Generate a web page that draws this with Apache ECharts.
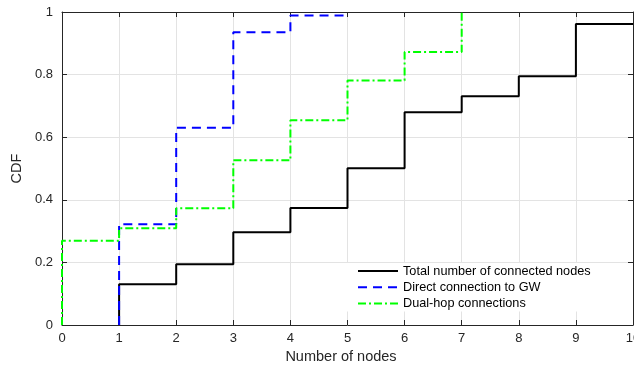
<!DOCTYPE html>
<html>
<head>
<meta charset="utf-8">
<script src="https://cdn.jsdelivr.net/npm/echarts@6/dist/echarts.min.js"></script>
<style>
  html, body { margin: 0; padding: 0; background: #fff; }
  #chart { width: 634px; height: 371px; }
</style>
</head>
<body>
<div id="chart"></div>
<script>
// Empirical CDF of node counts, drawn as stairs (x = number of nodes, y = CDF)
const seriesNames = ['Total number of connected nodes', 'Direct connection to GW', 'Dual-hop connections'];

const totalX = [1, 1, 2, 3, 4, 5, 6, 7, 8, 9, 10];
const totalY = [0, 0.130, 0.194, 0.296, 0.374, 0.501, 0.680, 0.731, 0.795, 0.962, 0.962];

const directX = [1, 1, 2, 3, 4, 5];
const directY = [0, 0.322, 0.630, 0.935, 0.989, 0.989];

const dualHopX = [0, 0, 1, 2, 3, 4, 5, 6, 7];
const dualHopY = [0, 0.269, 0.309, 0.373, 0.526, 0.654, 0.781, 0.872, 1.0];

const xTicks = { min: 0, max: 10, interval: 1 };
const yTicks = { min: 0, max: 1, interval: 0.2 };

const pairs = (xs, ys) => xs.map((x, i) => [x, ys[i]]);

const axisColor = '#262626';
const gridColor = '#e3e3e3';
const font = '"Liberation Sans", Arial, Helvetica, sans-serif';

const chart = echarts.init(document.getElementById('chart'), null, { renderer: 'canvas' });

const baseX = {
  type: 'value', min: xTicks.min, max: xTicks.max, interval: xTicks.interval,
  axisLine: { show: true, onZero: false, lineStyle: { color: axisColor, width: 1 } },
  axisTick: { show: true, inside: true, length: 5, lineStyle: { color: axisColor } },
  splitLine: { show: false }
};
const baseY = {
  type: 'value', min: yTicks.min, max: yTicks.max, interval: yTicks.interval,
  axisLine: { show: true, onZero: false, lineStyle: { color: axisColor, width: 1 } },
  axisTick: { show: true, inside: true, length: 5, lineStyle: { color: axisColor } },
  splitLine: { show: false }
};

chart.setOption({
  animation: false,
  backgroundColor: '#fff',
  grid: { left: 62, right: 1, top: 12, bottom: 46, containLabel: false, outerBoundsMode: 'none' },
  legend: {
    orient: 'vertical',
    left: 346, top: 263,
    padding: [1, 14, 1, 11],
    backgroundColor: '#fff',
    itemWidth: 40, itemHeight: 14, itemGap: 2.3,
    itemStyle: { opacity: 0 },
    textStyle: { fontFamily: font, fontSize: 12.7, color: '#000', lineHeight: 14 },
    data: seriesNames
  },
  xAxis: [
    Object.assign({}, baseX, {
      position: 'bottom',
      name: 'Number of nodes', nameLocation: 'middle', nameGap: 18,
      nameTextStyle: { fontFamily: font, fontSize: 14.5, color: axisColor, padding: [0, 13, 0, 0] },
      axisLabel: { show: true, margin: 7, fontFamily: font, fontSize: 13, color: axisColor },
      splitLine: { show: true, lineStyle: { color: gridColor, width: 1 } }
    }),
    Object.assign({}, baseX, { position: 'top', axisLabel: { show: false } })
  ],
  yAxis: [
    Object.assign({}, baseY, {
      position: 'left',
      name: 'CDF', nameLocation: 'middle', nameGap: 32,
      nameTextStyle: { fontFamily: font, fontSize: 14.5, color: axisColor },
      axisLabel: { show: true, margin: 9, fontFamily: font, fontSize: 13, color: axisColor },
      splitLine: { show: true, lineStyle: { color: gridColor, width: 1 } }
    }),
    Object.assign({}, baseY, { position: 'right', axisLabel: { show: false } })
  ],
  series: [
    {
      name: seriesNames[0], type: 'line', step: 'end', symbol: 'none',
      data: pairs(totalX, totalY),
      lineStyle: { color: '#000', width: 2 }, itemStyle: { color: '#000' }
    },
    {
      name: seriesNames[1], type: 'line', step: 'end', symbol: 'none',
      data: pairs(directX, directY),
      lineStyle: { color: '#0000ff', width: 2, type: [9, 6] }, itemStyle: { color: '#0000ff' }
    },
    {
      name: seriesNames[2], type: 'line', step: 'end', symbol: 'none',
      data: pairs(dualHopX, dualHopY),
      lineStyle: { color: '#00ff00', width: 2, type: [8, 3, 2, 3] }, itemStyle: { color: '#00ff00' }
    }
  ]
});
</script>
</body>
</html>
